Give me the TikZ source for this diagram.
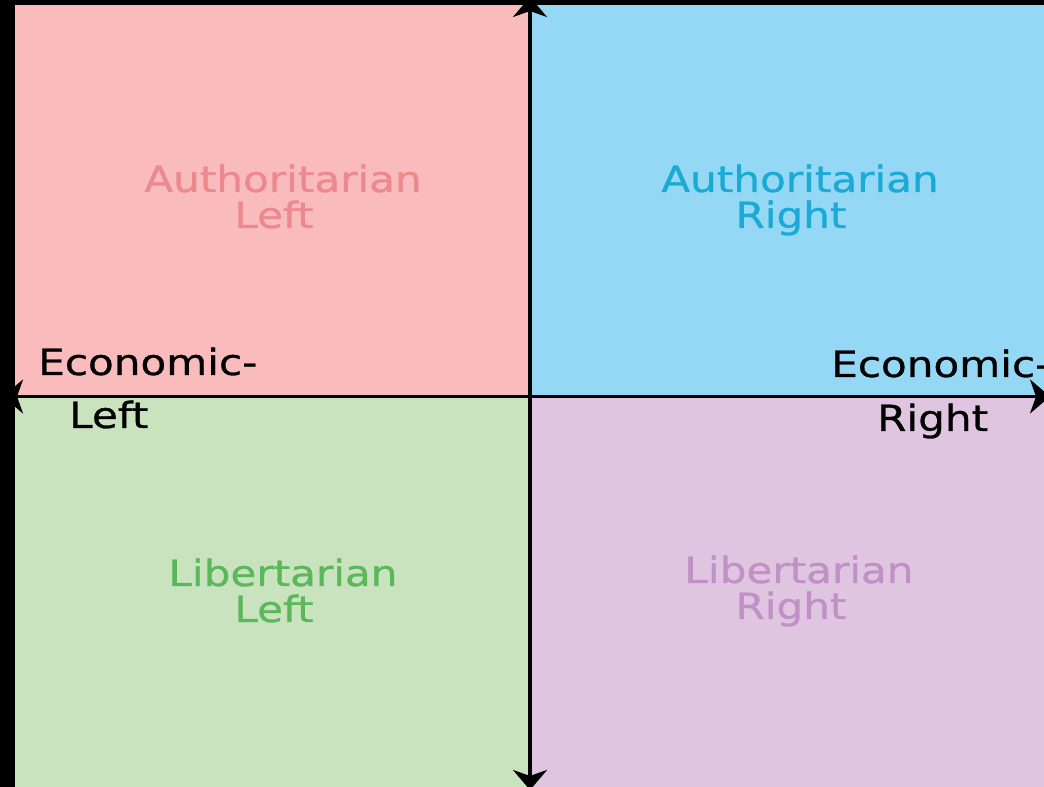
\documentclass[tikz,border=0pt]{standalone}
\usepackage{fontspec}
\newfontfamily\quadfont[FakeStretch=1.17,FakeBold=0.8]{DejaVu Sans}
\usetikzlibrary{arrows.meta}
\definecolor{alfill}{HTML}{F9BBBB}
\definecolor{altext}{HTML}{EC898E}
\definecolor{arfill}{HTML}{94D8F6}
\definecolor{artext}{HTML}{1AAAD3}
\definecolor{llfill}{HTML}{C8E3BE}
\definecolor{lltext}{HTML}{5AB85A}
\definecolor{lrfill}{HTML}{E0C5E0}
\definecolor{lrtext}{HTML}{C090C6}
\tikzset{
  lbl/.style={inner sep=0pt, anchor=base, font=\quadfont\fontsize{36}{40}\selectfont},
  axislbl/.style={inner sep=0pt, anchor=base west, font=\quadfont\fontsize{36}{40}\selectfont, text=black},
  axis/.style={line width=#1, draw=black, {Stealth[length=20pt,width=34pt,inset=6pt]}-{Stealth[length=20pt,width=34pt,inset=6pt]}},
}
\begin{document}
\begin{tikzpicture}[x=1pt,y=1pt]
\useasboundingbox (0,0) rectangle (1044,787);
% background
\fill[black] (0,0) rectangle (1044,787);
% quadrants
\fill[alfill] (15,391) rectangle (530,782);
\fill[arfill] (530,391) rectangle (1044,782);
\fill[llfill] (15,0) rectangle (530,391);
\fill[lrfill] (530,0) rectangle (1044,391);
% axes
\coordinate (top) at (530,790);
\coordinate (bottom) at (530,-3);
\coordinate (left) at (3,390.5);
\coordinate (right) at (1050,390.5);
\draw[axis=4pt] (bottom) -- (top);
\draw[axis=3pt] (left) -- (right);
% quadrant labels
\node[lbl, text=altext] (al1) at (283,595) {Authoritarian};
\node[lbl, text=altext] (al2) at (274,559) {Left};
\node[lbl, text=artext] (ar1) at (800,595) {Authoritarian};
\node[lbl, text=artext] (ar2) at (791,559) {Right};
\node[lbl, text=lltext] (ll1) at (283,201) {Libertarian};
\node[lbl, text=lltext] (ll2) at (274,165) {Left};
\node[lbl, text=lrtext] (lr1) at (799,204) {Libertarian};
\node[lbl, text=lrtext] (lr2) at (791,168) {Right};
% axis labels
\node[axislbl] (el1) at (38,412) {Economic-};
\node[axislbl] (el2) at (69,359) {Left};
\node[axislbl] (er1) at (831,410) {Economic-};
\node[axislbl] (er2) at (877,356) {Right};
\end{tikzpicture}
\end{document}
